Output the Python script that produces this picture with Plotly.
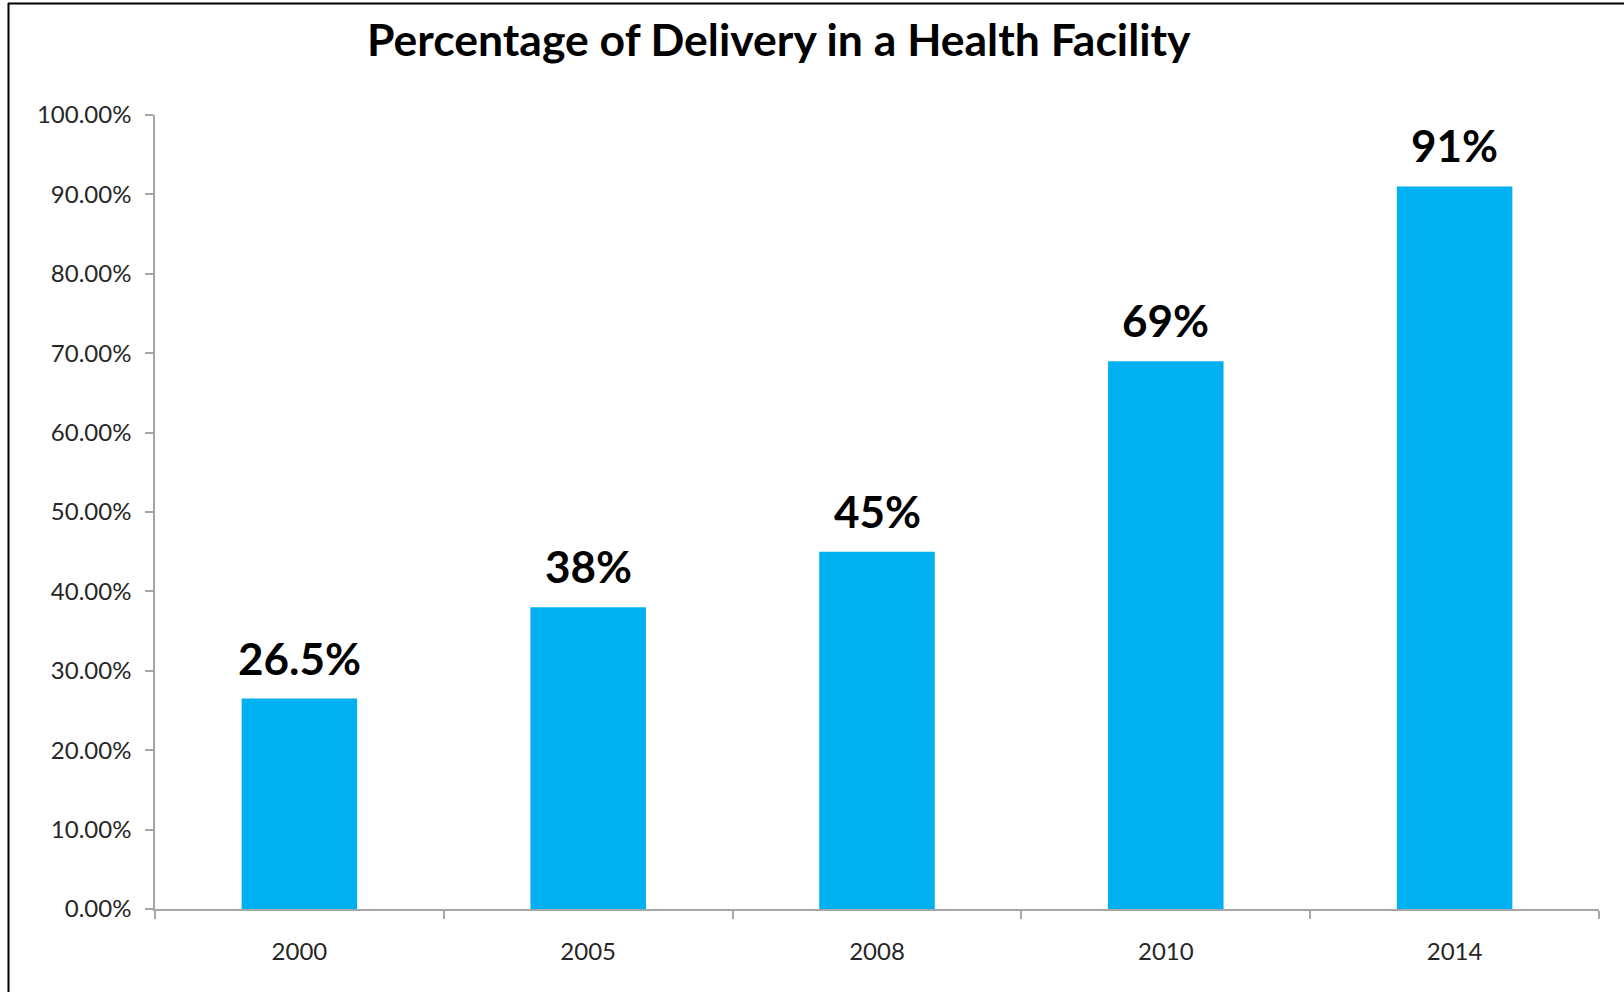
import plotly.graph_objects as go

years = ["2000", "2005", "2008", "2010", "2014"]
values = [0.265, 0.38, 0.45, 0.69, 0.91]
labels = ["26.5%", "38%", "45%", "69%", "91%"]
title_text = "Percentage of Delivery in a Health Facility"

W, H = 1624, 992
L, R, T, B = 155, 25, 115, 83
pw, ph = W - L - R, H - T - B
FONT = "Lato"

def px_x(x):
    return (x - L) / pw

def px_y(y):
    return (H - B - y) / ph

fig = go.Figure(go.Bar(
    x=years, y=values,
    marker=dict(color="#00B0F0", line=dict(width=0)),
    width=0.4, hoverinfo="skip",
))

annotations = [dict(
    text=f"<b>{title_text}</b>", xref="paper", yref="paper",
    x=px_x(779), y=px_y(39), xanchor="center", yanchor="middle",
    showarrow=False, font=dict(family=FONT, size=44.5, color="#000000"),
)]
for i, (v, lab) in enumerate(zip(values, labels)):
    annotations.append(dict(
        text=f"<b>{lab}</b>", x=i, y=v, xref="x", yref="y",
        xanchor="center", yanchor="bottom", yshift=13, showarrow=False,
        font=dict(family=FONT, size=44, color="#000000"),
    ))

fig.update_layout(
    width=W, height=H,
    margin=dict(l=L, r=R, t=T, b=B, pad=0),
    paper_bgcolor="white", plot_bgcolor="white",
    showlegend=False,
    font=dict(family=FONT, size=24, color="#262626"),
    xaxis=dict(
        type="category", range=[-0.5, len(years) - 0.5],
        showline=True, linecolor="#A6A6A6", linewidth=1.5,
        ticks="outside", ticklen=8, tickcolor="#A6A6A6", tickwidth=1.5,
        tickson="boundaries", showgrid=False, ticklabelstandoff=20,
    ),
    yaxis=dict(
        range=[0, 1], dtick=0.1, tickformat=".2%",
        showline=True, linecolor="#A6A6A6", linewidth=1.5,
        ticks="outside", ticklen=8, tickcolor="#A6A6A6", tickwidth=1.5,
        showgrid=False, zeroline=False, ticklabelstandoff=9,
    ),
    annotations=annotations,
    shapes=[
        dict(type="line", xref="paper", yref="paper", x0=px_x(8), x1=px_x(1640),
             y0=px_y(3.5), y1=px_y(3.5), line=dict(color="#000000", width=2)),
        dict(type="line", xref="paper", yref="paper", x0=px_x(8.5), x1=px_x(8.5),
             y0=px_y(3), y1=px_y(1000), line=dict(color="#000000", width=2)),
    ],
)

fig.write_html("out.html", config={"displayModeBar": False},
               post_script="document.body.style.margin='0';document.body.style.overflow='hidden';")
